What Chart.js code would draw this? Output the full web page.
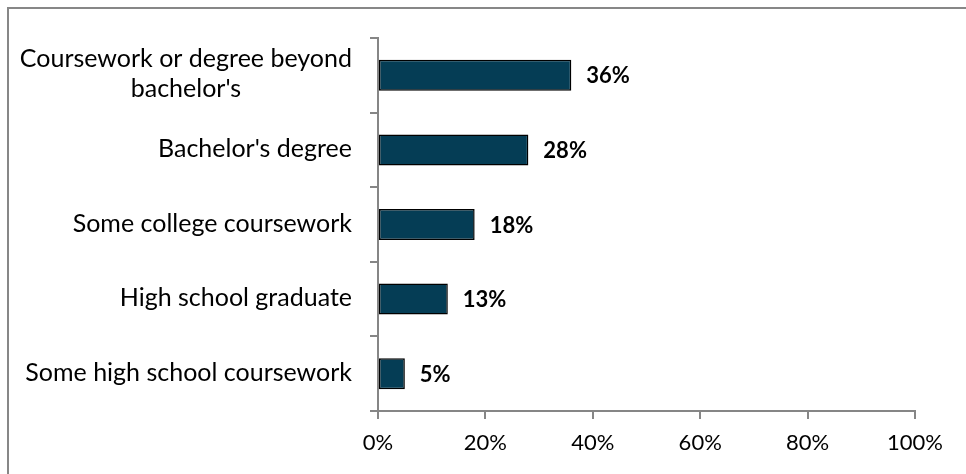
<!DOCTYPE html>
<html>
<head>
<meta charset="utf-8">
<script src="https://cdn.jsdelivr.net/npm/chart.js@4.4.1/dist/chart.umd.min.js"></script>
<style>
  html, body { margin: 0; padding: 0; background: #fff; }
  #wrap { width: 966px; height: 474px; }
</style>
</head>
<body>
<div id="wrap"><canvas id="eduChart" width="966" height="474"></canvas></div>
<script>
const categories = [
    ['Coursework or degree beyond', "bachelor's"],
    "Bachelor's degree",
    'Some college coursework',
    'High school graduate',
    'Some high school coursework'
]
const shares = [36, 28, 18, 13, 5]
const xTicks = [0, 20, 40, 60, 80, 100]

const FONT = 'Lato, "Open Sans", sans-serif'
const AXIS_GRAY = '#868686'

/*========================== Plugins =============================*/
// frame around the chart (only top and left edges fall inside the canvas)
const frame = {
    id: 'frame',
    beforeDraw(chart) {
        const ctx = chart.ctx
        ctx.save()
        ctx.fillStyle = '#fff'
        ctx.fillRect(0, 0, chart.width, chart.height)
        ctx.strokeStyle = '#878787'
        ctx.lineWidth = 2
        ctx.strokeRect(8, 8, chart.width + 10, chart.height + 10)
        ctx.restore()
    }
}

// category labels: single lines right aligned, wrapped ones centred on their widest line
const catLabels = {
    id: 'catLabels',
    afterDraw(chart) {
        const ctx = chart.ctx
        const y = chart.scales.y
        const right = chart.chartArea.left - 26
        ctx.save()
        ctx.font = '25px ' + FONT
        ctx.fillStyle = '#000'
        ctx.textBaseline = 'middle'
        categories.forEach((lab, i) => {
            const lines = Array.isArray(lab) ? lab : [lab]
            const widest = Math.max(...lines.map(l => ctx.measureText(l).width))
            const cx = right - widest / 2
            const lh = 30
            const cy = y.getPixelForTick(i) - (lines.length - 1) * lh / 2 - 1
            ctx.textAlign = 'center'
            lines.forEach((l, k) => ctx.fillText(l, cx, cy + k * lh))
        })
        ctx.restore()
    }
}

// value labels to the right of each bar
const valueLabels = {
    id: 'valueLabels',
    afterDatasetsDraw(chart) {
        const ctx = chart.ctx
        const meta = chart.getDatasetMeta(0)
        ctx.save()
        ctx.font = 'bold 22px ' + FONT
        ctx.fillStyle = '#000'
        ctx.textAlign = 'left'
        ctx.textBaseline = 'middle'
        meta.data.forEach((bar, i) => {
            ctx.fillText(shares[i] + '%', bar.x + 15, bar.y + 1)
        })
        ctx.restore()
    }
}

/*========================== Chart =============================*/
const dataEdu = {
    labels: categories,
    datasets: [
        {
            label: 'Share',
            data: shares,
            backgroundColor: '#053d55',
            borderColor: '#000',
            borderWidth: 1.5,
            borderSkipped: false,
            barPercentage: 0.415,
            categoryPercentage: 1
        }
    ]
}

const configEdu = {
    type: 'bar',
    data: dataEdu,
    plugins: [frame, catLabels, valueLabels],
    options: {
        indexAxis: 'y',
        responsive: false,
        animation: false,
        layout: {
            padding: { top: 38, right: 51, bottom: 0, left: 0 }
        },
        plugins: {
            legend: { display: false },
            tooltip: { enabled: false }
        },
        scales: {
            x: {
                min: 0,
                max: 100,
                afterBuildTicks(scale) {
                    scale.ticks = xTicks.map(v => ({ value: v }))
                },
                afterFit(scale) { scale.height = 63 },
                border: { color: AXIS_GRAY, width: 2 },
                grid: {
                    drawOnChartArea: false,
                    color: AXIS_GRAY,
                    lineWidth: 2,
                    tickLength: 8
                },
                ticks: {
                    color: '#000',
                    font: { family: FONT, size: 22 },
                    padding: 11,
                    maxRotation: 0,
                    callback: v => v + '%'
                }
            },
            y: {
                afterFit(scale) { scale.width = 378 },
                border: { color: AXIS_GRAY, width: 2 },
                grid: {
                    drawOnChartArea: false,
                    color: AXIS_GRAY,
                    lineWidth: 2,
                    tickLength: 8
                },
                ticks: {
                    color: 'rgba(0,0,0,0)',
                    font: { family: FONT, size: 20 }
                }
            }
        }
    }
}

const eduChart = new Chart(document.getElementById('eduChart'), configEdu)
</script>
</body>
</html>
